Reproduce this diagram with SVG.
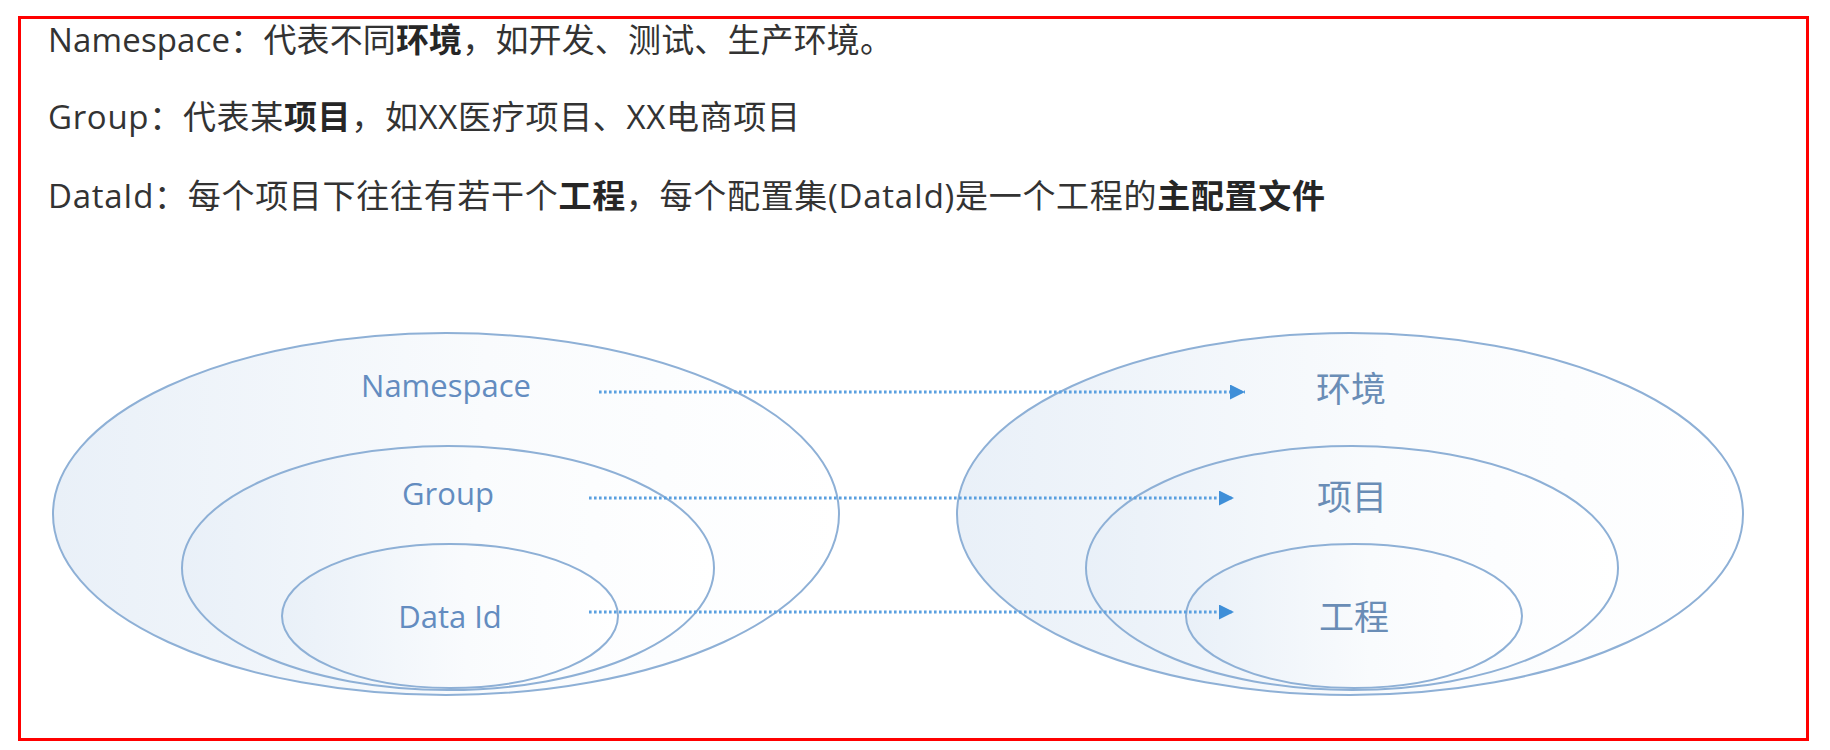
<svg xmlns="http://www.w3.org/2000/svg" width="1830" height="750" viewBox="0 0 1830 750">
  <defs>
    <linearGradient id="fillGrad" x1="0" y1="0" x2="1" y2="0">
      <stop offset="0" stop-color="#e9f0f8"/>
      <stop offset="0.55" stop-color="#f9fbfd"/>
      <stop offset="1" stop-color="#ffffff"/>
    </linearGradient>
    <marker id="arrow" viewBox="0 0 10 10" refX="10" refY="5" markerWidth="15" markerHeight="15" markerUnits="userSpaceOnUse" orient="auto">
      <path d="M0,0 L10,5 L0,10 Z" fill="#3f8fd8"/>
    </marker>
    <style>
      .desc { font-family: "Open Sans", "Noto Sans CJK SC", sans-serif; font-size: 33px; fill: #333333; }
      .b { font-weight: 700; fill: #262626; }
      .ell { fill: url(#fillGrad); stroke: #8eb0d6; stroke-width: 2; }
      .lbl { font-family: "Open Sans", "Noto Sans", sans-serif; font-size: 31px; font-weight: 500; fill: #638cc0; text-anchor: middle; }
      .cjk { font-family: "Noto Sans CJK SC", sans-serif; font-size: 35px; font-weight: 400; fill: #6a8db6; text-anchor: middle; }
      .conn { stroke: #5aa0e0; stroke-width: 3; stroke-dasharray: 2.6 2.4; fill: none; }
    </style>
  </defs>

  <rect x="0" y="0" width="1830" height="750" fill="#ffffff"/>
  <rect x="19.5" y="17.5" width="1788" height="722" fill="none" stroke="#ff0000" stroke-width="3"/>

  <g id="description">
    <text class="desc" x="48" y="52" textLength="845" lengthAdjust="spacing">Namespace：代表不同<tspan class="b">环境</tspan>，如开发、测试、生产环境。</text>
    <text class="desc" x="48" y="129" textLength="752" lengthAdjust="spacing">Group：代表某<tspan class="b">项目</tspan>，如XX医疗项目、XX电商项目</text>
    <text class="desc" x="48" y="208" textLength="1277" lengthAdjust="spacing">DataId：每个项目下往往有若干个<tspan class="b">工程</tspan>，每个配置集(DataId)是一个工程的<tspan class="b">主配置文件</tspan></text>
  </g>

  <g id="namespace">
    <ellipse class="ell" cx="446" cy="514" rx="393" ry="181"/>
    <text class="lbl" x="446" y="397">Namespace</text>
  </g>
  <g id="group">
    <ellipse class="ell" cx="448" cy="568" rx="266" ry="122"/>
    <text class="lbl" x="448" y="505">Group</text>
  </g>
  <g id="dataid">
    <ellipse class="ell" cx="450" cy="616" rx="168" ry="72"/>
    <text class="lbl" x="450" y="628">Data Id</text>
  </g>

  <g id="env">
    <ellipse class="ell" cx="1350" cy="514" rx="393" ry="181"/>
    <text class="cjk" x="1351" y="402">环境</text>
  </g>
  <g id="project">
    <ellipse class="ell" cx="1352" cy="568" rx="266" ry="122"/>
    <text class="cjk" x="1352" y="510">项目</text>
  </g>
  <g id="engineering">
    <ellipse class="ell" cx="1354" cy="616" rx="168" ry="72"/>
    <text class="cjk" x="1354" y="630">工程</text>
  </g>

  <g id="connectors">
    <line class="conn" x1="599" y1="392" x2="1245" y2="392" marker-end="url(#arrow)"/>
    <line class="conn" x1="589" y1="498" x2="1234" y2="498" marker-end="url(#arrow)"/>
    <line class="conn" x1="589" y1="612" x2="1234" y2="612" marker-end="url(#arrow)"/>
  </g>
</svg>
